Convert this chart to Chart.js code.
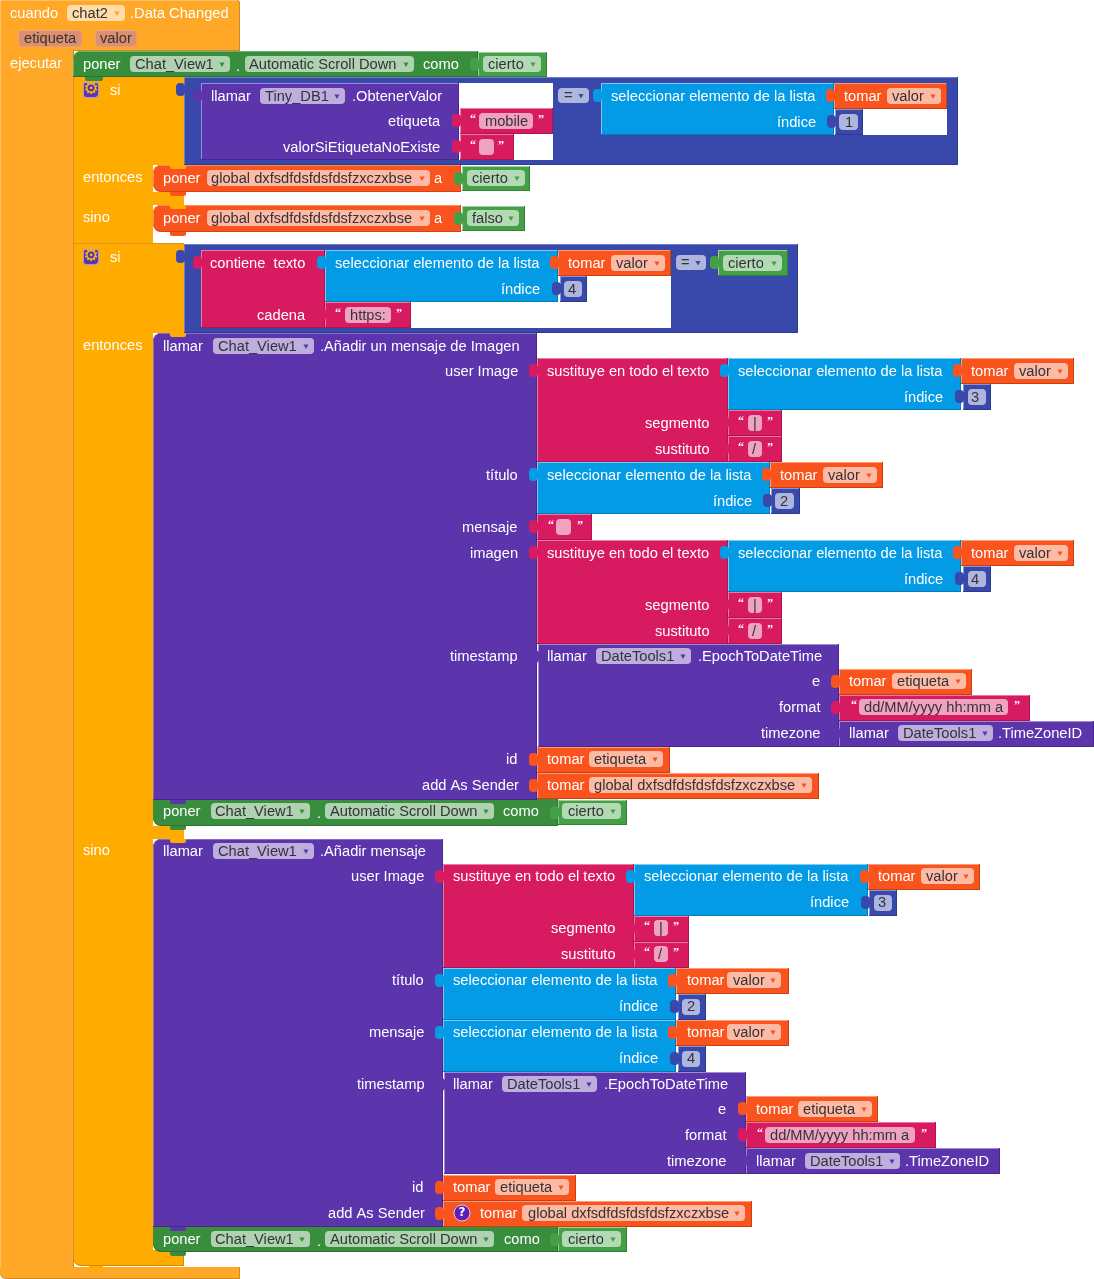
<!DOCTYPE html>
<html>
<head>
<meta charset="utf-8">
<title>chat2 Data Changed</title>
<script src="https://cdn.jsdelivr.net/npm/chart.js@4/dist/chart.umd.js"></script>
<style>
  html, body { margin: 0; padding: 0; background: #fff; }
  canvas { display: block; }
</style>
</head>
<body>
<canvas id="blocks" width="1094" height="1279"></canvas>
<script>
// every box is [left, right, top, bottom] in workspace units
const eventBoxes = [[0, 240, 0, 51], [0, 74, 0, 1270]];
const eventFoot = [[0, 240, 1267, 1279]];
const ifBoxes = [[73, 184, 77, 165], [73, 153, 165, 243], [153, 184, 192, 205], [73, 184, 243, 333],
  [73, 153, 333, 1252], [153, 184, 826, 839]];
const ifEdges = [[73, 74, 77, 1262], [73, 184, 243, 244]];
const ifFoot = [[73, 184, 1250, 1266]];
const setPropTop = [[73, 478, 51, 77]];
const setPropBottom = [[153, 558, 799, 826], [153, 558, 1226, 1252]];
const setVar = [[153, 461, 165, 192], [153, 461, 205, 232]];
const callTop = [[153, 537, 333, 800], [153, 443, 839, 1227]];
const logicBoxes = [[184, 958, 77, 165], [184, 798, 244, 333]];
const socketHoles = [[459, 553, 83, 160], [601, 947, 83, 135], [325, 671, 250, 328]];
const callValues = [[201, 459, 83, 160], [538, 839, 644, 747], [839, 1094, 721, 747], [444, 746, 1072, 1174], [746, 1000, 1148, 1174]];
const textValues = [[460, 553, 108, 134], [460, 514, 134, 160], [201, 325, 250, 328], [325, 411, 302, 328],
  [537, 728, 358, 462], [728, 782, 410, 436], [728, 782, 436, 462], [537, 592, 514, 540],
  [537, 728, 540, 644], [728, 782, 592, 618], [728, 782, 618, 644], [839, 1030, 695, 721],
  [443, 634, 864, 968], [634, 689, 916, 942], [634, 689, 942, 968], [746, 936, 1122, 1148]];
const listValues = [[601, 834, 83, 135], [325, 558, 250, 302], [728, 961, 358, 410], [537, 770, 462, 514],
  [728, 961, 540, 592], [634, 868, 864, 916], [443, 676, 968, 1020], [443, 676, 1020, 1072]];
const getValues = [[834, 947, 83, 109], [558, 671, 250, 276], [961, 1074, 358, 384], [770, 883, 462, 488],
  [961, 1074, 540, 566], [839, 972, 669, 695], [537, 670, 747, 773], [537, 819, 773, 799],
  [868, 980, 864, 890], [676, 789, 968, 994], [676, 789, 1020, 1046], [746, 878, 1096, 1122],
  [443, 576, 1175, 1201], [443, 752, 1201, 1227]];
const numberValues = [[835, 863, 109, 135], [560, 587, 276, 302], [963, 991, 384, 410], [771, 800, 488, 514],
  [963, 991, 566, 592], [869, 897, 890, 916], [678, 706, 994, 1020], [678, 706, 1046, 1072]];
const boolValues = [[478, 547, 52, 77], [462, 530, 166, 191], [462, 525, 206, 231], [718, 788, 250, 276],
  [558, 627, 800, 825], [558, 627, 1227, 1252]];

// small notches between stacked statements
const outerNotches = [[84, 102, 51, 55]];
const yellowNotches = [[170, 186, 165, 169], [170, 186, 205, 209], [170, 186, 333, 337], [170, 186, 839, 843], [89, 103, 1266, 1270]];
const greenNotches = [[85, 103, 77, 81], [170, 186, 826, 830], [170, 186, 1252, 1256]];
const orangeNotches = [[170, 186, 192, 196], [170, 186, 232, 236]];
const purpleNotches = [[170, 186, 800, 804], [170, 186, 1227, 1231]];

// dropdown fields, each one gets an arrow
const hatPills = [[67, 125, 5, 21]];
const propPills = [[130, 230, 56, 72], [245, 414, 56, 72], [211, 310, 803, 819], [325, 494, 803, 819], [211, 310, 1231, 1247], [325, 494, 1231, 1247]];
const boolPills = [[483, 541, 56, 72], [467, 525, 170, 186], [467, 519, 210, 226], [723, 782, 255, 271], [562, 621, 803, 819], [562, 621, 1231, 1247]];
const varPills = [[207, 430, 170, 186], [207, 430, 210, 226], [887, 941, 88, 104], [611, 665, 255, 271], [1014, 1068, 363, 379],
  [823, 877, 467, 483], [1014, 1068, 545, 561], [892, 966, 673, 689], [589, 663, 751, 767], [589, 812, 777, 793],
  [921, 974, 868, 884], [727, 781, 972, 988], [727, 781, 1024, 1040], [798, 872, 1101, 1117], [495, 569, 1179, 1195], [522, 745, 1205, 1221]];
const callPills = [[260, 345, 88, 104], [213, 314, 338, 354], [596, 691, 648, 664], [898, 993, 725, 741], [213, 314, 843, 859], [502, 597, 1076, 1092], [805, 900, 1153, 1169]];
const logicPills = [[558, 589, 88, 103], [676, 706, 255, 270]];
// fields without arrow
const numberPills = [[839, 858, 114, 130], [564, 582, 281, 297], [968, 986, 389, 405], [775, 794, 493, 509], [968, 986, 571, 587],
  [874, 892, 895, 911], [682, 700, 999, 1015], [682, 700, 1051, 1067]];
const textPills = [[479, 533, 113, 129], [479, 494, 139, 155], [345, 391, 307, 323], [748, 762, 415, 431], [748, 762, 441, 457],
  [556, 571, 519, 535], [748, 762, 597, 613], [748, 762, 623, 639], [859, 1008, 699, 715], [654, 668, 920, 936], [654, 668, 946, 962], [765, 915, 1127, 1143]];
const paramPills = [[18, 82, 30, 47], [95, 137, 30, 47]];
const settingsIcons = [[83, 99, 82, 98], [83, 99, 249, 265]];
const warningIcons = [{ x: 462, y: 1213 }];

// label, x, y
const sel = "seleccionar elemento de la lista";
const sub = "sustituye en todo el texto";
const blockLabels = [
  ["cuando", 10, 13], [".Data Changed", 130, 13], ["ejecutar", 10, 63], ["poner", 83, 64], [".", 236, 66], ["como", 423, 64],
  ["si", 110, 90], ["llamar", 211, 96], [".ObtenerValor", 352, 96], ["etiqueta", 388, 121], ["valorSiEtiquetaNoExiste", 283, 147],
  [sel, 611, 96], ["tomar", 844, 96], ["índice", 777, 122], ["entonces", 83, 177], ["poner", 163, 178], ["a", 434, 178],
  ["sino", 83, 217], ["poner", 163, 218], ["a", 434, 218], ["si", 110, 257], ["contiene  texto", 210, 263], [sel, 335, 263],
  ["tomar", 568, 263], ["índice", 501, 289], ["cadena", 257, 315], ["entonces", 83, 345], ["llamar", 163, 346],
  [".Añadir un mensaje de Imagen", 320, 346], ["user Image", 445, 371], [sub, 547, 371], [sel, 738, 371], ["tomar", 971, 371],
  ["índice", 904, 397], ["segmento", 645, 423], ["sustituto", 655, 449], ["título", 486, 475], [sel, 547, 475], ["tomar", 780, 475],
  ["índice", 713, 501], ["mensaje", 462, 527], ["imagen", 470, 553], [sub, 547, 553], [sel, 738, 553], ["tomar", 971, 553],
  ["índice", 904, 579], ["segmento", 645, 605], ["sustituto", 655, 631], ["timestamp", 450, 656], ["llamar", 547, 656],
  [".EpochToDateTime", 698, 656], ["e", 812, 681], ["tomar", 849, 681], ["format", 779, 707], ["timezone", 761, 733],
  ["llamar", 849, 733], [".TimeZoneID", 998, 733], ["id", 506, 759], ["tomar", 547, 759], ["add As Sender", 422, 785],
  ["tomar", 547, 785], ["poner", 163, 811], [".", 317, 813], ["como", 503, 811], ["sino", 83, 850], ["llamar", 163, 851],
  [".Añadir mensaje", 320, 851], ["user Image", 351, 876], [sub, 453, 876], [sel, 644, 876], ["tomar", 878, 876], ["índice", 810, 902],
  ["segmento", 551, 928], ["sustituto", 561, 954], ["título", 392, 980], [sel, 453, 980], ["tomar", 687, 980], ["índice", 619, 1006],
  ["mensaje", 369, 1032], [sel, 453, 1032], ["tomar", 687, 1032], ["índice", 619, 1058], ["timestamp", 357, 1084], ["llamar", 453, 1084],
  [".EpochToDateTime", 604, 1084], ["e", 718, 1109], ["tomar", 756, 1109], ["format", 685, 1135], ["timezone", 667, 1161],
  ["llamar", 756, 1161], [".TimeZoneID", 905, 1161], ["id", 412, 1187], ["tomar", 453, 1187], ["add As Sender", 328, 1213],
  ["tomar", 480, 1213], ["poner", 163, 1239], [".", 317, 1241], ["como", 504, 1239]
];
const fieldLabels = [
  ["chat2", 72, 13], ["etiqueta", 24, 38], ["valor", 100, 38], ["Chat_View1", 135, 64], ["Automatic Scroll Down", 249, 64],
  ["cierto", 488, 64], ["Tiny_DB1", 265, 96], ["mobile", 485, 121], ["=", 564, 95], ["valor", 892, 96], ["1", 845, 122],
  ["global dxfsdfdsfdsfdsfzxczxbse", 211, 178], ["cierto", 472, 178], ["global dxfsdfdsfdsfdsfzxczxbse", 211, 218], ["falso", 472, 218],
  ["=", 681, 262], ["cierto", 728, 263], ["valor", 616, 263], ["4", 568, 289], ["https:", 350, 315], ["Chat_View1", 218, 346],
  ["valor", 1019, 371], ["3", 971, 397], ["|", 753, 423], ["/", 752, 449], ["valor", 828, 475], ["2", 780, 501], ["valor", 1019, 553],
  ["4", 971, 579], ["|", 753, 605], ["/", 752, 631], ["DateTools1", 601, 656], ["etiqueta", 897, 681], ["dd/MM/yyyy hh:mm a", 864, 707],
  ["DateTools1", 903, 733], ["etiqueta", 594, 759], ["global dxfsdfdsfdsfdsfzxczxbse", 594, 785], ["Chat_View1", 215, 811],
  ["Automatic Scroll Down", 330, 811], ["cierto", 568, 811], ["Chat_View1", 218, 851], ["valor", 926, 876], ["3", 878, 902],
  ["|", 659, 928], ["/", 658, 954], ["valor", 733, 980], ["2", 687, 1006], ["valor", 733, 1032], ["4", 687, 1058], ["DateTools1", 507, 1084],
  ["etiqueta", 803, 1109], ["dd/MM/yyyy hh:mm a", 770, 1135], ["DateTools1", 810, 1161], ["etiqueta", 500, 1187],
  ["global dxfsdfdsfdsfdsfzxczxbse", 528, 1213], ["Chat_View1", 215, 1239], ["Automatic Scroll Down", 330, 1239], ["cierto", 568, 1239]
];
const quoteLabels = [
  ["“", 470, 118], ["”", 538, 118], ["“", 470, 144], ["”", 498, 144], ["“", 335, 312], ["”", 396, 312], ["“", 738, 420], ["”", 767, 420],
  ["“", 738, 446], ["”", 767, 446], ["“", 548, 524], ["”", 577, 524], ["“", 738, 602], ["”", 767, 602], ["“", 738, 628], ["”", 767, 628],
  ["“", 851, 704], ["”", 1014, 704], ["“", 644, 925], ["”", 673, 925], ["“", 644, 951], ["”", 673, 951], ["“", 757, 1132], ["”", 921, 1132]
];
const gearLabels = [["⚙", 91, 89], ["⚙", 91, 256]];
const badgeLabels = [["?", 462, 1212]];

// bar controller that also takes the bar width from the data
class BlockController extends Chart.BarController {
  static id = "blockBar";
  static defaults = Chart.BarController.defaults;
  static overrides = Chart.BarController.overrides;
  _calculateBarIndexPixels(index) {
    const box = this.getDataset().data[index];
    const left = this._cachedMeta.iScale.getPixelForValue(box.left);
    const right = this._cachedMeta.iScale.getPixelForValue(box.right);
    return { base: left, head: right, center: (left + right) / 2, size: right - left };
  }
}
Chart.register(BlockController);

function toBars(boxes) {
  return boxes.map(b => ({ x: (b[0] + b[1]) / 2, y: [b[2], b[3]], left: b[0], right: b[1] }));
}

const datasets = [];

function addFlat(boxes, color, radius) {
  datasets.push({ type: "blockBar", data: toBars(boxes), backgroundColor: color, borderWidth: 0, borderRadius: radius || 0, borderSkipped: false, inflateAmount: 0 });
}

// a block: dark backing for bottom and right edge, then the fill with a light top and left edge
function addBlock(boxes, color, dark, light, radius) {
  addFlat(boxes, dark, radius);
  const inner = boxes.map(b => [b[0], b[1] - 1, b[2], b[3] - 1]);
  datasets.push({ type: "blockBar", data: toBars(inner), backgroundColor: color, borderColor: light,
    borderWidth: { top: 1, left: 1, bottom: 0, right: 0 }, borderRadius: radius || 0, borderSkipped: false, inflateAmount: 0 });
}

function tabsFor(boxes) {
  return boxes.map(b => [b[0] - 8, b[0] + 1, b[2] + 6, b[2] + 19]);
}

const ORANGE = "#ffa726", YELLOW = "#ffab00", PROP = "#388e3c", VAR = "#f9531e", CALL = "#5c35ad", LOGIC = "#3949ab", TEXT = "#d81b60", LIST = "#039be5", BOOL = "#43a047";
const leftRound = { topLeft: 8, bottomLeft: 8, topRight: 0, bottomRight: 0 };
const topRound = { topLeft: 8, bottomLeft: 0, topRight: 0, bottomRight: 0 };
const bottomRound = { topLeft: 0, bottomLeft: 8, topRight: 0, bottomRight: 0 };
const notchRound = { topLeft: 0, topRight: 0, bottomLeft: 4, bottomRight: 4 };

addBlock(eventBoxes, ORANGE, "#c98a2a", "#ffbe68", { topLeft: 3, topRight: 3, bottomLeft: 0, bottomRight: 0 });
addBlock(eventFoot, ORANGE, "#d08c20", "#ffa726", bottomRound);
addFlat(ifBoxes, YELLOW, 0);
addBlock(ifFoot, YELLOW, "#d08c00", "#ffab00", bottomRound);
addFlat(ifEdges, "#d8912a", 0);
addFlat(outerNotches, ORANGE, notchRound);
addBlock(setPropTop, PROP, "#2c7230", "#6fae72", topRound);
addBlock(setPropBottom, PROP, "#2c7230", "#388e3c", bottomRound);
addBlock(setVar, VAR, "#d64012", "#ff8a5c", leftRound);
addBlock(callTop, CALL, "#47288a", "#8a6cc8", topRound);
addBlock(logicBoxes, LOGIC, "#2c3a8c", "#6f7cc8", 0);
addFlat(socketHoles, "#ffffff", 0);
addBlock(callValues, CALL, "#47288a", "#9f8ad6", 0);
addBlock(textValues, TEXT, "#ad154c", "#ec7aa2", 0);
addBlock(listValues, LIST, "#027cb7", "#7ccbf2", 0);
addBlock(getValues, VAR, "#c9400f", "#ff9c78", 0);
addBlock(numberValues, LOGIC, "#2c3a8c", "#8a95d4", 0);
addBlock(boolValues, BOOL, "#357f39", "#9dcea0", 0);
addFlat(yellowNotches, YELLOW, notchRound);
addFlat(greenNotches, PROP, notchRound);
addFlat(orangeNotches, VAR, notchRound);
addFlat(purpleNotches, CALL, notchRound);

// connector tabs sit left of every value block
addFlat(tabsFor(logicBoxes), LOGIC, 4);
addFlat(tabsFor(callValues), CALL, 4);
addFlat(tabsFor(textValues), TEXT, 4);
addFlat(tabsFor(listValues), LIST, 4);
addFlat(tabsFor(getValues), VAR, 4);
addFlat(tabsFor(numberValues), LOGIC, 4);
addFlat(tabsFor(boolValues), BOOL, 4);

const PILL = "rgba(255,255,255,0.6)";
[hatPills, propPills, boolPills, varPills, callPills, logicPills, numberPills, textPills].forEach(p => addFlat(p, PILL, 4));
addBlock(paramPills, "#dc906f", "#e79a78", "#eba785", 4);
addBlock(settingsIcons, "#5c35ad", "#a994dc", "#a994dc", 3);

// dropdown arrows and the warning badge are points on the same axes
function addArrows(pills, color) {
  datasets.push({ type: "scatter", data: pills.map(p => ({ x: p[1] - 8, y: (p[2] + p[3]) / 2 })),
    pointStyle: "triangle", rotation: 180, radius: 3, borderWidth: 0, backgroundColor: color });
}
addArrows(hatPills, ORANGE);
addArrows(propPills, PROP);
addArrows(boolPills, BOOL);
addArrows(varPills, VAR);
addArrows(callPills, CALL);
addArrows(logicPills, LOGIC);
datasets.push({ type: "scatter", data: warningIcons, pointStyle: "circle", radius: 8, backgroundColor: "#5e1eb0", borderColor: "#d8c8f0", borderWidth: 1 });

// the library draws the first dataset on top, so number them back to front
datasets.forEach((d, i) => { d.order = datasets.length - i; });

const labelPlugin = {
  id: "labelPlugin",
  afterDatasetsDraw(chart) {
    const { ctx, scales: { x, y } } = chart;
    const write = (items, font, color, shift) => {
      ctx.font = font;
      ctx.fillStyle = color;
      items.forEach(l => ctx.fillText(l[0], x.getPixelForValue(l[1]), y.getPixelForValue(l[2]) + shift));
    };
    ctx.save();
    ctx.textBaseline = "middle";
    ctx.textAlign = "left";
    write(blockLabels, "14.67px 'Liberation Sans'", "#ffffff", 1);
    write(fieldLabels, "14.67px 'Liberation Sans'", "#333338", 1);
    write(quoteLabels, "bold 12px 'Liberation Serif'", "#ffffff", 2);
    ctx.textAlign = "center";
    write(gearLabels, "17px 'DejaVu Sans'", "#ffc107", 1);
    write(badgeLabels, "bold 12px 'DejaVu Sans'", "#ffffff", 1);
    ctx.restore();
  }
};

new Chart(document.getElementById("blocks").getContext("2d"), {
  type: "blockBar",
  data: { datasets },
  plugins: [labelPlugin],
  options: {
    responsive: false,
    animation: false,
    devicePixelRatio: 1,
    layout: { padding: 0, autoPadding: false },
    plugins: { legend: { display: false }, tooltip: { enabled: false } },
    scales: {
      x: { type: "linear", min: 0, max: 1094, offset: false, display: false },
      y: { type: "linear", min: 0, max: 1279, reverse: true, display: false }
    }
  }
});
</script>
</body>
</html>
